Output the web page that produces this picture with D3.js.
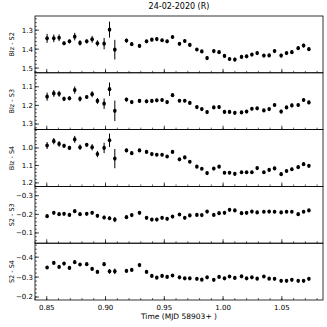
<!DOCTYPE html>
<html>
<head>
<meta charset="utf-8">
<script src="https://cdn.jsdelivr.net/npm/d3@7"></script>
<style>
  body { margin: 0; background: #fff; }
  svg { font-family: "DejaVu Sans", sans-serif; }
</style>
</head>
<body>
<svg id="chart" width="327" height="327"></svg>
<script>
// observation times (MJD 58903+)
const times = [0.8503, 0.8560, 0.8605, 0.8647, 0.8693, 0.8738, 0.8783, 0.8840, 0.8886, 0.8931,
  0.8988, 0.9034, 0.9079, 0.9178, 0.9223, 0.9289, 0.9349, 0.9394, 0.9436, 0.9481,
  0.9524, 0.9570, 0.9629, 0.9674, 0.9717, 0.9777, 0.9819, 0.9864, 0.9921, 0.9966,
  1.0012, 1.0055, 1.0100, 1.0157, 1.0200, 1.0245, 1.0290, 1.0347, 1.0392, 1.0438,
  1.0494, 1.0540, 1.0585, 1.0639, 1.0685, 1.0730];

const bizS2 = [1.343, 1.343, 1.340, 1.369, 1.359, 1.334, 1.367, 1.359, 1.348, 1.369,
  1.371, 1.297, 1.403, 1.355, 1.374, 1.383, 1.359, 1.350, 1.347, 1.353,
  1.359, 1.336, 1.372, 1.357, 1.378, 1.402, 1.412, 1.447, 1.410, 1.416,
  1.436, 1.452, 1.455, 1.441, 1.438, 1.429, 1.421, 1.434, 1.433, 1.410,
  1.434, 1.421, 1.416, 1.395, 1.381, 1.400];
const bizS2Err = [0.024, 0.02, 0.018, 0.01, 0.01, 0.02, 0.014, 0.01, 0.018, 0.016,
  0.03, 0.042, 0.052, 0.01, 0.008, 0.008, 0.008, 0.008, 0.008, 0.008,
  0.008, 0.008, 0.008, 0.008, 0.008, 0.008, 0.008, 0.01, 0.008, 0.008,
  0.008, 0.008, 0.01, 0.008, 0.008, 0.008, 0.008, 0.008, 0.008, 0.008,
  0.01, 0.008, 0.01, 0.008, 0.01, 0.01];

const bizS3 = [1.153, 1.136, 1.138, 1.165, 1.162, 1.118, 1.165, 1.155, 1.140, 1.176,
  1.191, 1.113, 1.229, 1.169, 1.182, 1.176, 1.178, 1.176, 1.173, 1.171,
  1.182, 1.145, 1.175, 1.175, 1.187, 1.209, 1.220, 1.236, 1.211, 1.209,
  1.235, 1.235, 1.240, 1.238, 1.233, 1.218, 1.216, 1.227, 1.220, 1.198,
  1.233, 1.211, 1.200, 1.198, 1.171, 1.184];
const bizS3Err = [0.022, 0.018, 0.016, 0.012, 0.01, 0.02, 0.014, 0.01, 0.016, 0.016,
  0.028, 0.036, 0.055, 0.01, 0.008, 0.008, 0.008, 0.008, 0.008, 0.008,
  0.008, 0.008, 0.008, 0.008, 0.008, 0.008, 0.008, 0.01, 0.008, 0.008,
  0.008, 0.008, 0.01, 0.008, 0.008, 0.008, 0.008, 0.008, 0.008, 0.008,
  0.01, 0.008, 0.01, 0.008, 0.01, 0.01];

const bizS4 = [0.986, 0.961, 0.977, 0.988, 1.000, 0.951, 0.996, 0.982, 0.996, 1.035,
  1.000, 0.956, 1.061, 1.014, 1.030, 1.014, 1.023, 1.035, 1.039, 1.039,
  1.049, 1.023, 1.065, 1.054, 1.079, 1.107, 1.119, 1.144, 1.118, 1.107,
  1.142, 1.142, 1.148, 1.139, 1.139, 1.139, 1.115, 1.139, 1.126, 1.117,
  1.150, 1.132, 1.122, 1.110, 1.093, 1.102];
const bizS4Err = [0.02, 0.018, 0.016, 0.012, 0.012, 0.02, 0.016, 0.01, 0.018, 0.018,
  0.03, 0.038, 0.055, 0.01, 0.008, 0.008, 0.008, 0.008, 0.008, 0.008,
  0.008, 0.008, 0.008, 0.008, 0.008, 0.008, 0.008, 0.01, 0.008, 0.008,
  0.008, 0.008, 0.01, 0.008, 0.008, 0.008, 0.008, 0.008, 0.008, 0.008,
  0.01, 0.008, 0.01, 0.008, 0.01, 0.01];

const s2S3 = [-0.190, -0.208, -0.201, -0.203, -0.197, -0.217, -0.201, -0.203, -0.208, -0.192,
  -0.183, -0.179, -0.172, -0.185, -0.196, -0.208, -0.181, -0.172, -0.172, -0.181,
  -0.176, -0.188, -0.199, -0.181, -0.194, -0.197, -0.196, -0.215, -0.197, -0.206,
  -0.208, -0.224, -0.221, -0.206, -0.208, -0.215, -0.210, -0.214, -0.215, -0.214,
  -0.210, -0.214, -0.214, -0.201, -0.214, -0.221];
const s2S3Err = [0.006, 0.005, 0.005, 0.005, 0.005, 0.006, 0.005, 0.005, 0.005, 0.005,
  0.01, 0.01, 0.014, 0.005, 0.005, 0.005, 0.005, 0.005, 0.005, 0.005,
  0.005, 0.005, 0.005, 0.005, 0.005, 0.005, 0.005, 0.005, 0.005, 0.005,
  0.005, 0.005, 0.005, 0.005, 0.005, 0.005, 0.005, 0.005, 0.005, 0.005,
  0.005, 0.005, 0.005, 0.005, 0.005, 0.005];

const s2S4 = [-0.348, -0.371, -0.351, -0.368, -0.346, -0.375, -0.363, -0.365, -0.341, -0.326,
  -0.365, -0.329, -0.329, -0.331, -0.336, -0.360, -0.326, -0.306, -0.297, -0.306,
  -0.301, -0.308, -0.299, -0.294, -0.294, -0.291, -0.287, -0.299, -0.286, -0.301,
  -0.294, -0.303, -0.296, -0.304, -0.294, -0.299, -0.292, -0.303, -0.292, -0.291,
  -0.281, -0.281, -0.286, -0.281, -0.281, -0.291];
const s2S4Err = [0.006, 0.005, 0.005, 0.005, 0.005, 0.006, 0.005, 0.005, 0.005, 0.005,
  0.01, 0.012, 0.014, 0.005, 0.005, 0.005, 0.005, 0.005, 0.005, 0.005,
  0.005, 0.005, 0.005, 0.005, 0.005, 0.005, 0.005, 0.005, 0.005, 0.005,
  0.005, 0.005, 0.005, 0.005, 0.005, 0.005, 0.005, 0.005, 0.005, 0.005,
  0.005, 0.005, 0.005, 0.005, 0.005, 0.005];

const xTicks = [0.85, 0.90, 0.95, 1.00, 1.05];

const panels = [
  { label: 'Blz - S2', vals: bizS2, errs: bizS2Err, domain: [1.225, 1.525], ticks: [1.3, 1.4, 1.5] },
  { label: 'Blz - S3', vals: bizS3, errs: bizS3Err, domain: [1.025, 1.33], ticks: [1.1, 1.2, 1.3] },
  { label: 'Blz - S4', vals: bizS4, errs: bizS4Err, domain: [0.895, 1.22], ticks: [1.0, 1.1, 1.2] },
  { label: 'S2 - S3', vals: s2S3, errs: s2S3Err, domain: [-0.35, -0.045], ticks: [-0.3, -0.2, -0.1] },
  { label: 'S2 - S4', vals: s2S4, errs: s2S4Err, domain: [-0.47, -0.185], ticks: [-0.4, -0.3, -0.2] }
];

const svg = d3.select('#chart'),
  mLeft = 35, mRight = 323, mTop = 16, mBottom = 300,
  ph = (mBottom - mTop) / panels.length;

const x = d3.scaleLinear().domain([0.84, 1.085]).range([mLeft, mRight]);
const fmt = d => d < 0 ? '\u2212' + d3.format('.1f')(-d) : d3.format('.1f')(d);

svg.append('text')
  .attr('x', 179).attr('y', 9)
  .attr('text-anchor', 'middle')
  .attr('font-size', 8)
  .text('24-02-2020  (R)');

panels.forEach((p, i) => {
  const y0 = mTop + i * ph, y1 = y0 + ph;
  // magnitudes: brighter on top, so range goes top->bottom with increasing value
  const y = d3.scaleLinear().domain(p.domain).range([y0, y1]);
  const g = svg.append('g');

  // minor + major x ticks (inside, bottom)
  const xMinor = d3.range(0.84, 1.0851, 0.01);
  g.selectAll('line.xminor').data(xMinor).enter().append('line')
    .attr('x1', d => x(d)).attr('x2', d => x(d))
    .attr('y1', y1).attr('y2', y1 - 2)
    .attr('stroke', '#000').attr('stroke-width', 0.6);
  g.selectAll('line.xmajor').data(xTicks).enter().append('line')
    .attr('x1', d => x(d)).attr('x2', d => x(d))
    .attr('y1', y1).attr('y2', y1 - 4)
    .attr('stroke', '#000').attr('stroke-width', 0.7);

  // y ticks (inside, left)
  const lo = Math.min(...p.domain), hi = Math.max(...p.domain);
  const yMinor = d3.range(Math.ceil(lo * 50) / 50, hi, 0.02);
  g.selectAll('line.yminor').data(yMinor).enter().append('line')
    .attr('x1', mLeft).attr('x2', mLeft + 2)
    .attr('y1', d => y(d)).attr('y2', d => y(d))
    .attr('stroke', '#000').attr('stroke-width', 0.6);
  g.selectAll('line.ymajor').data(p.ticks).enter().append('line')
    .attr('x1', mLeft).attr('x2', mLeft + 4)
    .attr('y1', d => y(d)).attr('y2', d => y(d))
    .attr('stroke', '#000').attr('stroke-width', 0.7);
  g.selectAll('text.ylab').data(p.ticks).enter().append('text')
    .attr('x', mLeft - 2).attr('y', d => y(d))
    .attr('dy', '0.35em')
    .attr('text-anchor', 'end')
    .attr('font-size', 7)
    .text(fmt);

  svg.append('text')
    .attr('transform', `translate(14,${(y0 + y1) / 2}) rotate(-90)`)
    .attr('text-anchor', 'middle')
    .attr('font-size', 6.5)
    .text(p.label);

  const pts = times.map((t, j) => ({ t, v: p.vals[j], e: p.errs[j] }));
  g.selectAll('line.err').data(pts).enter().append('line')
    .attr('x1', d => x(d.t)).attr('x2', d => x(d.t))
    .attr('y1', d => y(d.v - d.e)).attr('y2', d => y(d.v + d.e))
    .attr('stroke', '#000').attr('stroke-width', 1);
  g.selectAll('ellipse').data(pts).enter().append('ellipse')
    .attr('cx', d => x(d.t)).attr('cy', d => y(d.v))
    .attr('rx', 1.8).attr('ry', 2.1)
    .attr('fill', '#000');

  g.append('rect')
    .attr('x', mLeft).attr('y', y0)
    .attr('width', mRight - mLeft).attr('height', ph)
    .attr('fill', 'none').attr('stroke', '#000').attr('stroke-width', 0.8);
});

svg.selectAll('text.xlab').data(xTicks).enter().append('text')
  .attr('x', d => x(d)).attr('y', mBottom + 10)
  .attr('text-anchor', 'middle')
  .attr('font-size', 7)
  .text(d => d3.format('.2f')(d));

svg.append('text')
  .attr('x', 179).attr('y', 319)
  .attr('text-anchor', 'middle')
  .attr('font-size', 7.5)
  .text('Time (MJD 58903+ )');
</script>
</body>
</html>
